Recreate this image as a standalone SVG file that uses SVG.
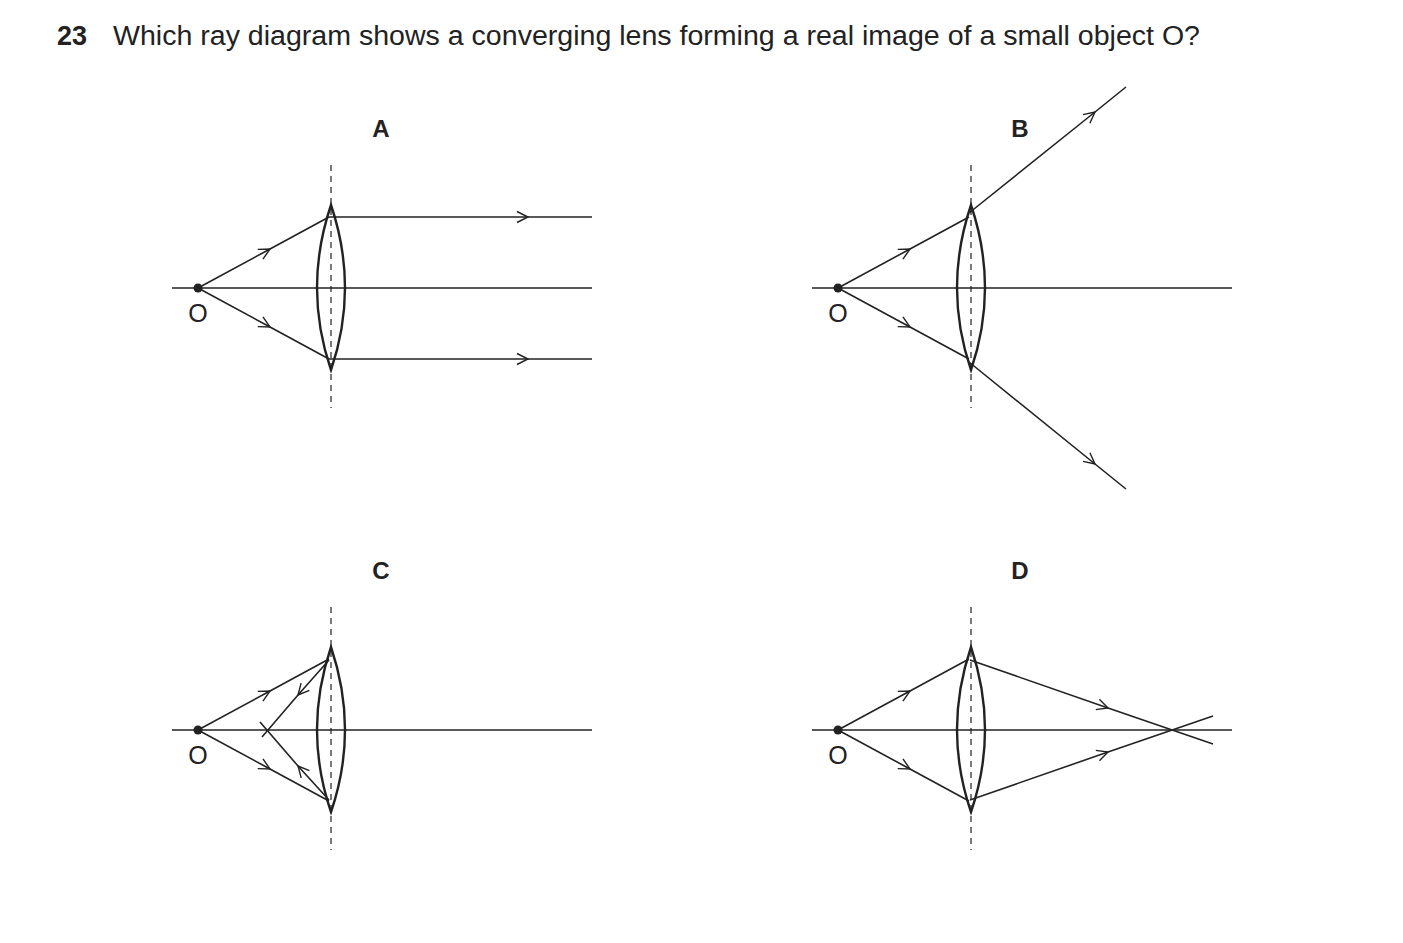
<svg xmlns="http://www.w3.org/2000/svg" width="1403" height="943" viewBox="0 0 1403 943">
<style>
.l{fill:none;stroke:#222;stroke-width:1.6}
.lens{fill:none;stroke:#222;stroke-width:2.4}
.d{fill:none;stroke:#222;stroke-width:1.2;stroke-dasharray:6,5}
.t{font-family:"Liberation Sans",Arial,sans-serif;fill:#222}
</style>
<defs>
<marker id="ch" viewBox="-12 -7 14 14" markerWidth="14" markerHeight="14" refX="0" refY="0" orient="auto" markerUnits="userSpaceOnUse">
<path d="M-11,-5.5 L0,0 L-11,5.5" fill="none" stroke="#222" stroke-width="1.4"/>
</marker>
<g id="base">
<line class="l" x1="172" y1="288" x2="592" y2="288"/>
<line class="d" x1="331" y1="165" x2="331" y2="408"/>
<path class="lens" d="M331,205 Q303,288 331,370 Q359,288 331,205Z"/>
<circle cx="198" cy="288" r="4.5" fill="#222"/>
<text class="t" x="198" y="322" font-size="25" text-anchor="middle">O</text>
<polyline class="l" marker-mid="url(#ch)" points="198,288 270,249 329,217"/>
<polyline class="l" marker-mid="url(#ch)" points="198,288 270,327 329,359"/>
</g>
</defs>
<text class="t" x="57" y="45" font-size="27" font-weight="bold">23</text>
<text class="t" x="113" y="45" font-size="27" textLength="1087" lengthAdjust="spacingAndGlyphs">Which ray diagram shows a converging lens forming a real image of a small object O?</text>
<g id="A">
<use href="#base"/>
<text class="t" x="381" y="137" font-size="24" font-weight="bold" text-anchor="middle">A</text>
<polyline class="l" marker-mid="url(#ch)" points="329,217 528,217 592,217"/>
<polyline class="l" marker-mid="url(#ch)" points="329,359 528,359 592,359"/>
</g>
<g id="B">
<use href="#base" transform="translate(640,0)"/>
<text class="t" x="1020" y="137" font-size="24" font-weight="bold" text-anchor="middle">B</text>
<polyline class="l" marker-mid="url(#ch)" points="969,213 1095,112 1126,87"/>
<polyline class="l" marker-mid="url(#ch)" points="969,362 1095,464 1126,489"/>
</g>
<g id="C">
<use href="#base" transform="translate(0,442)"/>
<text class="t" x="381" y="579" font-size="24" font-weight="bold" text-anchor="middle">C</text>
<polyline class="l" marker-mid="url(#ch)" points="329,660 298,695 262,737"/>
<polyline class="l" marker-mid="url(#ch)" points="329,800 298,766 260,722"/>
</g>
<g id="D">
<use href="#base" transform="translate(640,442)"/>
<text class="t" x="1020" y="579" font-size="24" font-weight="bold" text-anchor="middle">D</text>
<polyline class="l" marker-mid="url(#ch)" points="970,660 1108,708 1213,744"/>
<polyline class="l" marker-mid="url(#ch)" points="970,800 1108,752 1213,716"/>
</g>
</svg>
